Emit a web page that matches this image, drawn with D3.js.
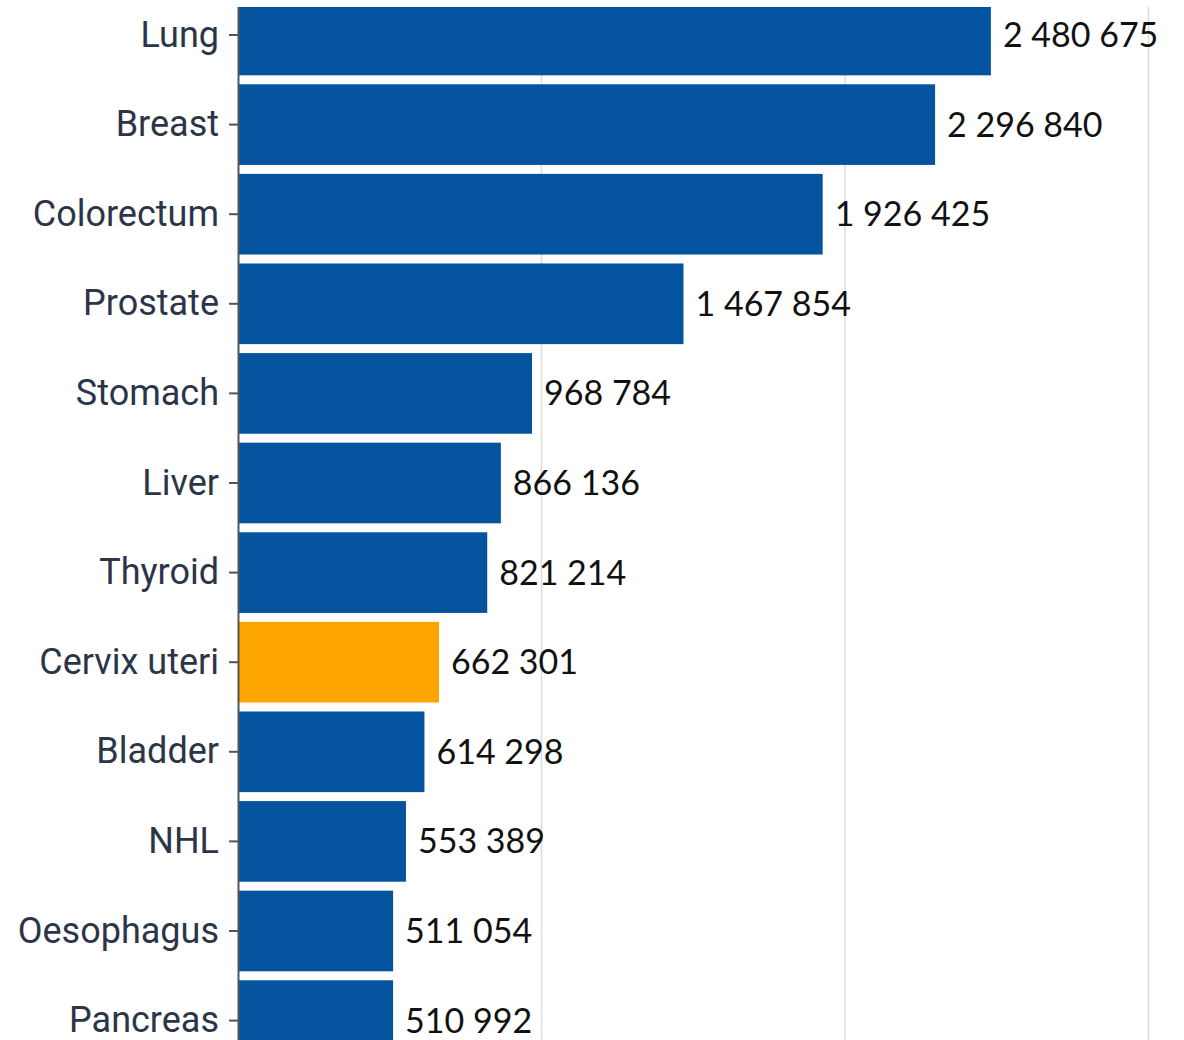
<!DOCTYPE html>
<html>
<head>
<meta charset="utf-8">
<script src="https://cdn.jsdelivr.net/npm/d3@7"></script>
<style>
  body { margin: 0; background: #fff; }
</style>
</head>
<body>
<div id="chart"></div>
<script>
var width = 1184;
var height = 1040;
var axisX = 238;
var clipTop = 7;
var barColor = '#03539f';
var highlightColor = '#ffa500';
var gridColor = '#dcdcdc';

// data
var sites = ['Lung', 'Breast', 'Colorectum', 'Prostate', 'Stomach', 'Liver', 'Thyroid',
      'Cervix uteri', 'Bladder', 'NHL', 'Oesophagus', 'Pancreas'];
var cases = [2480675, 2296840, 1926425, 1467854, 968784, 866136, 821214,
      662301, 614298, 553389, 511054, 510992];
var highlighted = ['Cervix uteri'];
var xTicks = [0, 1000000, 2000000, 3000000];

var data = sites.map((s, i) => ({ site: s, value: cases[i] }));

var svg = d3.select('#chart').append('svg')
      .attr('width', width)
      .attr('height', height)
      .style('display', 'block');

svg.append('clipPath')
      .attr('id', 'clip')
      .append('rect')
      .attr('x', 0)
      .attr('y', clipTop)
      .attr('width', width)
      .attr('height', height - clipTop);

var plot = svg.append('g').attr('clip-path', 'url(#clip)');

var xScale = d3.scaleLinear()
      .domain([0, 3000000])
      .range([axisX, 1148.5]);

var yScale = d3.scaleBand()
      .domain(sites)
      .range([-9.8, 1065.4])
      .paddingInner(0.1)
      .paddingOuter(0.05);

var fmt = d3.formatLocale({ decimal: '.', thousands: ' ', grouping: [3], currency: ['', ''] }).format(',d');

// gridlines behind the bars
plot.selectAll('line.grid')
      .data(xTicks.slice(1))
      .enter()
      .append('line')
      .attr('class', 'grid')
      .attr('x1', d => xScale(d))
      .attr('x2', d => xScale(d))
      .attr('y1', 0)
      .attr('y2', height)
      .style('stroke', gridColor)
      .style('stroke-width', 1.5);

plot.selectAll('rect.bar')
      .data(data)
      .enter()
      .append('rect')
      .attr('class', 'bar')
      .attr('x', xScale(0))
      .attr('y', d => yScale(d.site))
      .attr('width', d => xScale(d.value) - xScale(0))
      .attr('height', yScale.bandwidth())
      .style('fill', d => highlighted.includes(d.site) ? highlightColor : barColor);

plot.selectAll('text.value')
      .data(data)
      .enter()
      .append('text')
      .attr('class', 'value')
      .attr('x', d => xScale(d.value) + 12)
      .attr('y', d => yScale(d.site) + yScale.bandwidth() / 2)
      .attr('dy', '0.35em')
      .style('font-family', 'Lato, sans-serif')
      .style('font-size', '34px')
      .style('fill', '#111')
      .text(d => fmt(d.value));

// y axis
var yAxis = d3.axisLeft(yScale)
      .tickSizeInner(9)
      .tickSizeOuter(0)
      .tickPadding(10);

var yAxisGroup = plot.append('g')
      .attr('transform', 'translate(' + axisX + ', 0)')
      .call(yAxis);

yAxisGroup.select('.domain')
      .style('stroke', '#555')
      .style('stroke-width', 2);
yAxisGroup.selectAll('.tick line')
      .style('stroke', '#555')
      .style('stroke-width', 2);
yAxisGroup.selectAll('.tick text')
      .style('font-family', 'Roboto, sans-serif')
      .style('font-size', '36px')
      .style('fill', '#2c3548');
</script>
</body>
</html>
